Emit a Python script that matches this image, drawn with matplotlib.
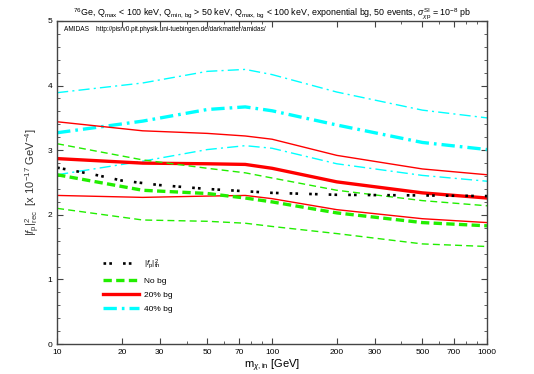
import matplotlib
matplotlib.use("Agg")
import matplotlib.pyplot as plt
from matplotlib.ticker import FixedLocator, NullFormatter, MultipleLocator

plt.rcParams['font.family'] = ['Liberation Sans', 'DejaVu Sans']
plt.rcParams['mathtext.fontset'] = 'custom'
plt.rcParams['mathtext.rm'] = 'Liberation Sans'
plt.rcParams['mathtext.it'] = 'Liberation Sans:italic'
plt.rcParams['mathtext.sf'] = 'Liberation Sans'

# WIMP masses used for the reconstruction
mass = [10, 25, 50, 75, 100, 200, 500, 1000]

# theory curve
mass_th = [10, 15, 20, 30, 50, 100, 200, 500, 1000]
fp_th = [2.73, 2.62, 2.53, 2.46, 2.40, 2.34, 2.31, 2.30, 2.29]

# no background: median, upper, lower
nobg_mid = [2.62, 2.38, 2.33, 2.26, 2.20, 2.03, 1.88, 1.83]
nobg_up = [3.10, 2.85, 2.72, 2.65, 2.57, 2.38, 2.22, 2.14]
nobg_lo = [2.10, 1.92, 1.90, 1.87, 1.82, 1.71, 1.55, 1.51]

# 20% background
bg20_mid = [2.87, 2.80, 2.79, 2.78, 2.72, 2.51, 2.34, 2.26]
bg20_up = [3.44, 3.30, 3.26, 3.22, 3.17, 2.92, 2.71, 2.62]
bg20_lo = [2.30, 2.27, 2.29, 2.30, 2.25, 2.08, 1.94, 1.88]

# 40% background
bg40_mid = [3.27, 3.45, 3.63, 3.67, 3.61, 3.39, 3.12, 3.01]
bg40_up = [3.89, 4.04, 4.22, 4.25, 4.17, 3.90, 3.62, 3.50]
bg40_lo = [2.62, 2.83, 3.01, 3.07, 3.03, 2.79, 2.61, 2.52]

xticks = [10, 20, 30, 50, 70, 100, 200, 300, 500, 700, 1000]

fig = plt.figure(figsize=(5.34, 3.74), dpi=100)
ax = fig.add_axes([0.107, 0.080, 0.805, 0.864])

green = '#22ee00'
red = '#ff0000'
cyan = '#00ffff'

# 40% bg
ax.plot(mass, bg40_up, color=cyan, lw=1.0, ls=(0, (8, 3, 1.5, 3)))
ax.plot(mass, bg40_lo, color=cyan, lw=1.0, ls=(0, (8, 3, 1.5, 3)))
ax.plot(mass, bg40_mid, color=cyan, lw=2.4, ls=(0, (4, 1.5, 0.8, 1.5)), label='40% bg')
# 20% bg
ax.plot(mass, bg20_up, color=red, lw=1.0)
ax.plot(mass, bg20_lo, color=red, lw=1.0)
ax.plot(mass, bg20_mid, color=red, lw=2.4, label='20% bg')
# no bg
ax.plot(mass, nobg_up, color=green, lw=1.0, ls=(0, (5, 3)))
ax.plot(mass, nobg_lo, color=green, lw=1.0, ls=(0, (5, 3)))
ax.plot(mass, nobg_mid, color=green, lw=2.4, ls=(0, (2.5, 1.3)), label='No bg')
# theory
ax.plot(mass_th, fp_th, color='black', lw=1.9, ls=(0, (1, 1.2, 1, 4.2)),
        label=r'$|f_{\mathrm{p}}|^2_{\mathrm{th}}$')

ax.set_xscale('log')
ax.set_xlim(10, 1000)
ax.set_ylim(0, 5)
ax.xaxis.set_major_locator(FixedLocator(xticks))
ax.xaxis.set_minor_locator(FixedLocator([m * d for d in (10, 100) for m in range(1, 10)]))
ax.xaxis.set_minor_formatter(NullFormatter())
ax.set_xticklabels([str(t) for t in xticks])
ax.yaxis.set_major_locator(MultipleLocator(1))
ax.yaxis.set_minor_locator(MultipleLocator(0.2))
ax.tick_params(which='both', direction='in', top=True, right=True,
               labelsize=6, color='#444444')
ax.tick_params(which='major', length=4, width=0.8)
ax.tick_params(which='minor', length=2, width=0.6)
for s in ax.spines.values():
    s.set_color('#444444')
    s.set_linewidth(1.0)

ax.set_xlabel(r'$\mathrm{m}_{\chi,\mathrm{in}}$ [GeV]', fontsize=8, labelpad=1)
ax.set_ylabel(r'$|f_{\mathrm{p}}|^2_{\mathrm{rec}}$  [x 10$^{-17}$ GeV$^{-4}$]',
              fontsize=8, color='#333333', labelpad=4)
ax.set_title(r'$^{76}$Ge, Q$_{\mathrm{max}}$ < 100 keV, Q$_{\mathrm{min,\,bg}}$ > 50 keV, '
             r'Q$_{\mathrm{max,\,bg}}$ < 100 keV, exponential bg, 50 events, '
             r'$\sigma^{\mathrm{SI}}_{\chi\mathrm{p}}$ = 10$^{-8}$ pb',
             fontsize=6.4, pad=4)
ax.text(0.015, 0.985, 'AMIDAS    http://pisrv0.pit.physik.uni-tuebingen.de/darkmatter/amidas/',
        transform=ax.transAxes, fontsize=4.7, va='top', ha='left')

h, l = ax.get_legend_handles_labels()
ax.legend(h[::-1], l[::-1], loc='upper left', bbox_to_anchor=(0.09, 0.29),
          frameon=False, fontsize=6, handlelength=4.3, labelspacing=0.75,
          handletextpad=0.6)

fig.savefig('out.png', dpi=100)
